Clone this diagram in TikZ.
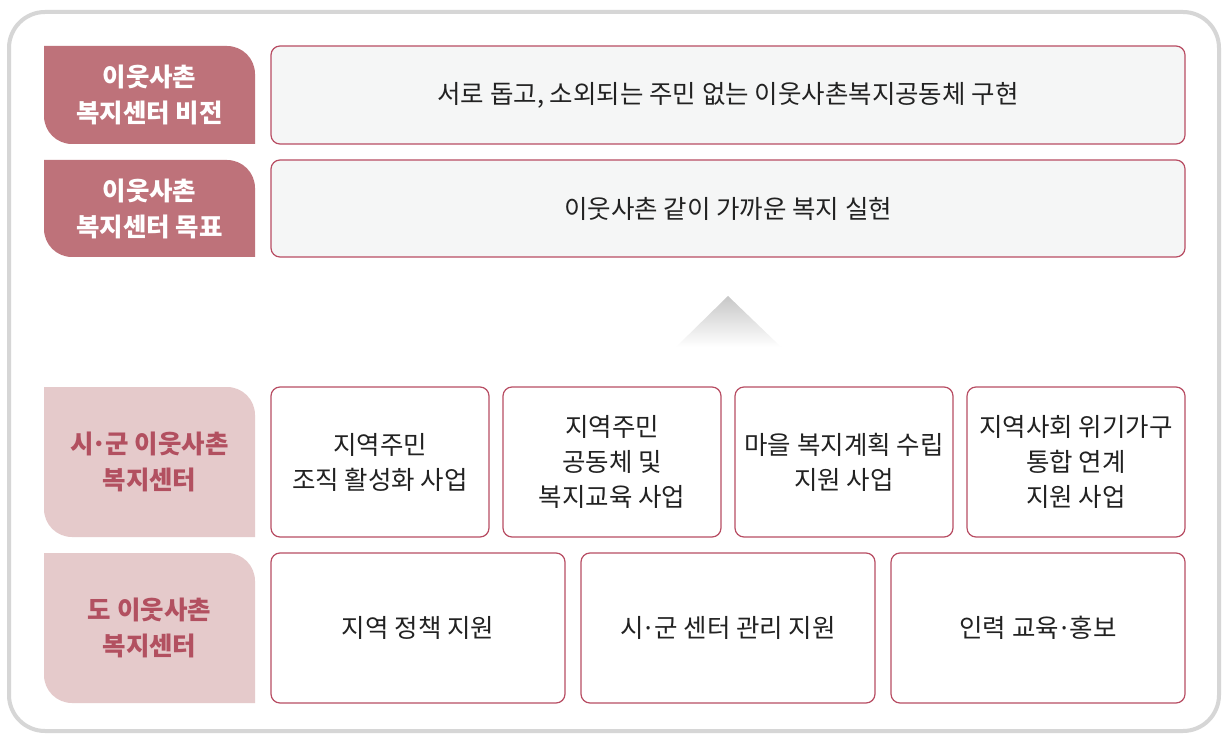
\documentclass[tikz,border=0pt]{standalone}
\usepackage{fontspec}
\setmainfont{Noto Sans CJK KR}
\definecolor{frame}{HTML}{D6D6D6}
\definecolor{darkrose}{HTML}{BE727A}
\definecolor{lightrose}{HTML}{E5CACB}
\definecolor{roseText}{HTML}{B25060}
\definecolor{boxline}{HTML}{B84D63}
\definecolor{topfill}{HTML}{F5F6F6}
\definecolor{ink}{HTML}{222222}
\newcommand{\mdt}{\kern-.07em·\kern-.07em}
\newcommand{\lblshape}[6]{% name, x1, y1, x2, y2, fill
  \fill[#6] (#2,#3) -- ({#4-28},#3) arc(-90:0:28) -- (#4,#5) -- ({#2+28},#5) arc(90:180:28) -- cycle;
  \coordinate (#1) at ({(#2+#4)/2},{(#3+#5)/2});
}
\begin{document}
\begin{tikzpicture}[x=1pt,y=-1pt,
  every node/.style={font=\fontsize{25.5}{35}\selectfont, text=ink, align=center},
  lbldark/.style={text=white, font=\fontsize{25.5}{36}\selectfont\bfseries},
  lbllight/.style={text=roseText, font=\fontsize{25.5}{36}\selectfont\bfseries},
  topbox/.style={draw=boxline, line width=1.2pt, fill=topfill, rounded corners=9, inner sep=0pt, outer sep=0pt},
  subbox/.style={draw=boxline, line width=1.2pt, fill=white, rounded corners=9, inner sep=0pt, outer sep=0pt}
]
\useasboundingbox (0,0) rectangle (1226,735);
\fill[white] (0,0) rectangle (1226,735);
\draw[frame, line width=4pt, rounded corners=36] (9,12) rectangle (1219,731);

% labels
\lblshape{L1}{44}{46}{255}{144}{darkrose}
\lblshape{L2}{44}{160}{255}{257}{darkrose}
\lblshape{L3}{44}{387}{255}{537}{lightrose}
\lblshape{L4}{44}{553}{255}{703}{lightrose}
\node[lbldark] (t1) at (L1) {이웃사촌\\복지센터 비전};
\node[lbldark] (t2) at (L2) {이웃사촌\\복지센터 목표};
\node[lbllight] (t3) at (L3) {시\mdt 군 이웃사촌\\복지센터};
\node[lbllight] (t4) at (L4) {도 이웃사촌\\복지센터};

% top boxes
\node[topbox, minimum width=914, minimum height=98] (v) at (728,95) {서로 돕고, 소외되는 주민 없는 이웃사촌복지공동체 구현};
\node[topbox, minimum width=914, minimum height=97] (g) at (728,208.5) {이웃사촌 같이 가까운 복지 실현};

% triangle
\shade[top color=black!22, bottom color=white] (676,347) -- (728,296) -- (781,347) -- cycle;

% row 3
\node[subbox, minimum width=218, minimum height=150] (c1) at (380,462) {지역주민\\조직 활성화 사업};
\node[subbox, minimum width=218, minimum height=150] (c2) at (612,462) {지역주민\\공동체 및\\복지교육 사업};
\node[subbox, minimum width=218, minimum height=150] (c3) at (844,462) {마을 복지계획 수립\\지원 사업};
\node[subbox, minimum width=218, minimum height=150] (c4) at (1076,462) {지역사회 위기가구\\통합 연계\\지원 사업};

% row 4
\node[subbox, minimum width=294, minimum height=150] (d1) at (418,628) {지역 정책 지원};
\node[subbox, minimum width=294, minimum height=150] (d2) at (728,628) {시\mdt 군 센터 관리 지원};
\node[subbox, minimum width=294, minimum height=150] (d3) at (1038,628) {인력 교육\mdt 홍보};
\end{tikzpicture}
\end{document}
